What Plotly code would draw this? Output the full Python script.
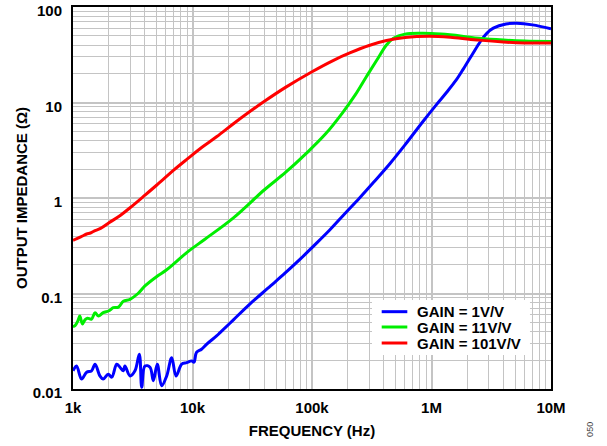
import plotly.graph_objects as go

# ---- data (frequency in Hz, impedance in ohms) ----
blue_f = [1000, 1070, 1180, 1300, 1430, 1530, 1680, 1790, 1970, 2110, 2320, 2470, 2640, 2720,
          3000, 3300, 3590, 3760, 4000, 4410, 4700, 5070, 5520, 6080, 6700, 7280, 8120, 8940,
          9850, 10300, 10800, 11900, 13100, 15900, 17000, 22000, 30000, 45000, 60000, 80000,
          102000, 140000, 183000, 250000, 326000, 450000, 600000, 855000, 1100000, 1340000,
          1600000, 1850000, 2200000, 2550000, 2900000, 3290000, 4200000, 5170000, 7000000, 10000000]
blue_z = [0.0155, 0.0174, 0.0127, 0.0150, 0.0155, 0.0182, 0.0137, 0.0127, 0.0143, 0.0133, 0.0182,
          0.0169, 0.0155, 0.0174, 0.0137, 0.0155, 0.0231, 0.0104, 0.0174, 0.0169, 0.0122, 0.0182,
          0.0108, 0.0137, 0.0213, 0.0137, 0.0182, 0.0189, 0.0197, 0.0191, 0.0242, 0.0261, 0.0294,
          0.0359, 0.0389, 0.053, 0.077, 0.12, 0.165, 0.23, 0.31, 0.46, 0.66, 1.0, 1.45, 2.3, 3.6,
          6.4, 9.5, 12.8, 17, 22.5, 32, 43, 53, 60, 66.5, 67.6, 65, 59]

green_f = [1000, 1040, 1100, 1140, 1200, 1260, 1320, 1430, 1530, 1630, 1790, 2000, 2170, 2400,
           2640, 3000, 3500, 4000, 5000, 6000, 7000, 9000, 12700, 22000, 40000, 60000, 90000,
           130000, 180000, 230000, 285000, 350000, 420000, 480000, 600000, 850000, 1200000,
           1800000, 2500000, 4000000, 6000000, 10000000]
green_z = [0.045, 0.046, 0.052, 0.058, 0.048, 0.053, 0.055, 0.054, 0.063, 0.058, 0.063, 0.066,
           0.071, 0.072, 0.083, 0.087, 0.10, 0.12, 0.15, 0.175, 0.205, 0.27, 0.37, 0.62, 1.22,
           1.85, 2.95, 4.7, 7.8, 12, 18.6, 28, 40, 47, 52, 53, 52, 49.5, 47, 45, 44, 43.5]

red_f = [1000, 1050, 1100, 1200, 1300, 1400, 1500, 1700, 2000, 2500, 3000, 4000, 5000, 7000,
         9000, 12000, 16000, 22000, 30000, 40000, 60000, 100000, 150000, 207000, 300000, 420000,
         600000, 960000, 1500000, 2500000, 4000000, 6000000, 10000000]
red_z = [0.36, 0.37, 0.38, 0.40, 0.42, 0.43, 0.45, 0.48, 0.55, 0.66, 0.79, 1.07, 1.36, 1.97, 2.55,
         3.4, 4.4, 6.0, 8.0, 10.3, 14.4, 21, 27.5, 33, 39.5, 44.5, 48, 49.5, 48, 45, 43, 42, 42]

series_names = ["GAIN = 1V/V", "GAIN = 11V/V", "GAIN = 101V/V"]
series_colors = ["#0000ff", "#00ee00", "#ff0000"]

x_tickvals = [1e3, 1e4, 1e5, 1e6, 1e7]
x_ticktext = ["1k", "10k", "100k", "1M", "10M"]
y_tickvals = [0.01, 0.1, 1, 10, 100]
y_ticktext = ["0.01", "0.1", "1", "10", "100"]

FONT = "Liberation Sans, Arial, sans-serif"

fig = go.Figure()
for f, z, name, col in [(blue_f, blue_z, series_names[0], series_colors[0]),
                        (green_f, green_z, series_names[1], series_colors[1]),
                        (red_f, red_z, series_names[2], series_colors[2])]:
    fig.add_trace(go.Scatter(x=f, y=z, mode="lines", name=name, showlegend=False,
                             line=dict(color=col, width=3, shape="spline", smoothing=1.0)))

grid_col = "#c4c4c4"
fig.update_xaxes(type="log", range=[3, 7], tickvals=x_tickvals, ticktext=x_ticktext,
                 showgrid=True, gridcolor=grid_col, gridwidth=1.5,
                 minor=dict(dtick="D1", showgrid=True, gridcolor=grid_col, gridwidth=1),
                 showline=True, linecolor="black", linewidth=2, mirror=True,
                 ticks="", zeroline=False, automargin=False, ticklabelstandoff=4,
                 ticklabeloverflow="allow",
                 tickfont=dict(family=FONT, size=15, color="black", weight="bold"),
                 title=dict(text="FREQUENCY (Hz)", standoff=10,
                            font=dict(family=FONT, size=15, color="black", weight="bold")))
fig.update_yaxes(type="log", range=[-2, 2], tickvals=y_tickvals, ticktext=y_ticktext,
                 showgrid=True, gridcolor=grid_col, gridwidth=1.5,
                 minor=dict(dtick="D1", showgrid=True, gridcolor=grid_col, gridwidth=1),
                 showline=True, linecolor="black", linewidth=2, mirror=True,
                 ticks="", zeroline=False, automargin=False, ticklabelstandoff=6,
                 ticklabelshift=4, ticklabeloverflow="allow",
                 tickfont=dict(family=FONT, size=15, color="black", weight="bold"),
                 title=dict(text="OUTPUT IMPEDANCE (Ω)", standoff=2,
                            font=dict(family=FONT, size=15, color="black", weight="bold")))

# legend drawn manually (paper coordinates)
leg_y = [0.2024, 0.1623, 0.1204]
shapes = [dict(type="rect", xref="paper", yref="paper", x0=0.6255, x1=0.956, y0=0.089, y1=0.233,
               fillcolor="white", line=dict(width=0), layer="above")]
annotations = []
for yy, name, col in zip(leg_y, series_names, series_colors):
    shapes.append(dict(type="line", xref="paper", yref="paper", x0=0.6458, x1=0.6994,
                       y0=yy, y1=yy, line=dict(color=col, width=3), layer="above"))
    annotations.append(dict(text=name, xref="paper", yref="paper", x=0.7155, y=yy,
                            xanchor="left", yanchor="middle", showarrow=False,
                            font=dict(family=FONT, size=15, color="black", weight="bold")))
annotations.append(dict(text="050", xref="paper", yref="paper", x=1.0816, y=-0.107,
                        xanchor="center", yanchor="middle",
                        showarrow=False, textangle=-90,
                        font=dict(family=FONT, size=9, color="#444444")))

fig.update_layout(
    width=607, height=446,
    margin=dict(l=73, r=56, t=7, b=57, autoexpand=False),
    paper_bgcolor="white", plot_bgcolor="white",
    showlegend=False,
    shapes=shapes,
    annotations=annotations,
)

fig.write_html("out.html", config={"displayModeBar": False},
               post_script="document.body.style.margin='0px';")
